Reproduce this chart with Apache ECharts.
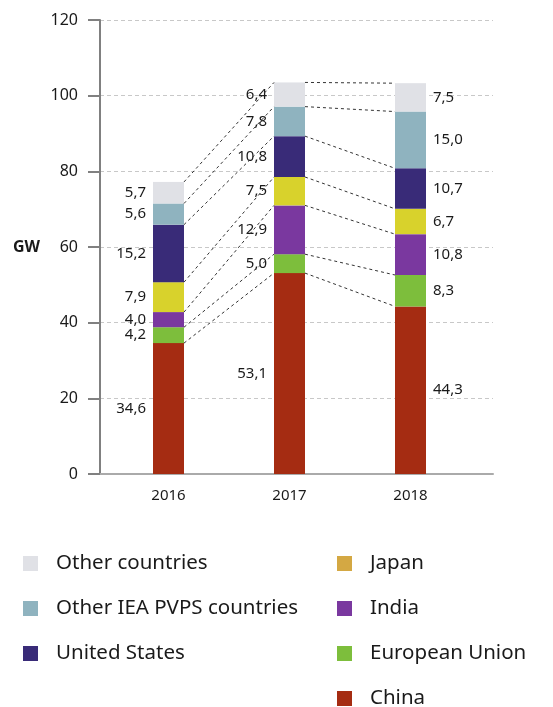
<!DOCTYPE html>
<html>
<head>
<meta charset="utf-8">
<script src="https://cdn.jsdelivr.net/npm/echarts@6/dist/echarts.min.js"></script>
<style>
  html, body { margin: 0; padding: 0; background: #fff; }
  #chart { width: 553px; height: 707px; }
</style>
</head>
<body>
<div id="chart"></div>
<script>
// data (GW)
const years = ['2016', '2017', '2018'];
const seriesNames = ['China', 'European Union', 'India', 'Japan', 'United States', 'Other IEA PVPS countries', 'Other countries'];
const china = [34.6, 53.1, 44.3];
const eu = [4.2, 5.0, 8.3];
const india = [4.0, 12.9, 10.8];
const japan = [7.9, 7.5, 6.7];
const usa = [15.2, 10.8, 10.7];
const otherIea = [5.6, 7.8, 15.0];
const otherCountries = [5.7, 6.4, 7.5];
const yTicks = [0, 20, 40, 60, 80, 100, 120];

const values = [china, eu, india, japan, usa, otherIea, otherCountries];
const colors = ['#a52c12', '#7dbe3c', '#7a389f', '#d8d22c', '#392b78', '#8fb3bf', '#e0e1e6'];
const barW = 31;
const textColor = '#1a1a1a';
const font = 'Noto Sans';

// cumulative tops for the dashed connectors
const tops = values.map((_, k) => years.map((_, i) => {
    let s = 0;
    for (let j = 0; j <= k; j++) s += values[j][i];
    return s;
}));
const links = [];
tops.forEach(row => {
    for (let i = 0; i < years.length - 1; i++) links.push([i, row[i], row[i + 1]]);
});

const fmt = v => v.toFixed(1).replace('.', ',');

const barSeries = seriesNames.map((name, k) => ({
    name: name,
    type: 'bar',
    stack: 'total',
    xAxisIndex: 1,
    yAxisIndex: 1,
    barWidth: barW,
    itemStyle: { color: colors[k] },
    data: values[k].map((v, i) => ({
        value: v,
        label: { position: i === years.length - 1 ? 'right' : 'left' }
    })),
    label: {
        show: true,
        distance: 7,
        color: textColor,
        fontFamily: font,
        fontSize: 15,
        formatter: p => fmt(p.value)
    },
    emphasis: { disabled: true }
}));

const legendText = { color: textColor, fontSize: 20.5, fontFamily: font, lineHeight: 20, padding: [0, 0, 0, 13] };

const dom = document.getElementById('chart');
const myChart = echarts.init(dom);

const option = {
    animation: false,
    textStyle: { fontFamily: font },
    grid: [
        { left: 100, right: 60, top: 20, bottom: 233 },
        { left: 108, right: 82, top: 20, bottom: 233 }
    ],
    xAxis: [
        {
            gridIndex: 0, type: 'value', min: 0, max: 1,
            axisLine: { show: true, lineStyle: { color: '#aaaaaa', width: 2 } },
            axisTick: { show: false }, axisLabel: { show: false }, splitLine: { show: false }
        },
        {
            gridIndex: 1, type: 'category', data: years,
            axisLine: { show: false }, axisTick: { show: false },
            axisLabel: { color: textColor, fontSize: 15, fontFamily: font, margin: 14 }
        }
    ],
    yAxis: [
        {
            gridIndex: 0, type: 'value', min: yTicks[0], max: yTicks[yTicks.length - 1], interval: 20,
            name: 'GW', nameLocation: 'middle', nameRotate: 0, nameGap: 60,
            nameTextStyle: { color: textColor, fontSize: 16, fontWeight: 'bold', fontFamily: font },
            axisLine: { show: true, lineStyle: { color: '#808080', width: 2 } },
            axisTick: { show: true, length: 12, lineStyle: { color: '#808080', width: 2 } },
            axisLabel: { color: textColor, fontSize: 16, fontFamily: font, margin: 22 },
            splitLine: { show: true, lineStyle: { color: '#c8c8c8', type: [4, 3], width: 1 } }
        },
        { gridIndex: 1, type: 'value', min: 0, max: 120, show: false }
    ],
    legend: [
        {
            orient: 'vertical', left: 23, top: 553, height: 200, padding: 0,
            itemWidth: 15, itemHeight: 15, itemGap: 24, icon: 'rect',
            selectedMode: false,
            textStyle: legendText,
            data: ['Other countries', 'Other IEA PVPS countries', 'United States']
        },
        {
            orient: 'vertical', left: 337, top: 553, height: 200, padding: 0,
            itemWidth: 15, itemHeight: 15, itemGap: 24, icon: 'rect',
            selectedMode: false,
            textStyle: legendText,
            data: [{ name: 'Japan', itemStyle: { color: '#d4a843' } }, 'India', 'European Union', 'China']
        }
    ],
    series: barSeries.concat([{
        type: 'custom',
        name: 'links',
        xAxisIndex: 1,
        yAxisIndex: 1,
        silent: true,
        z: 3,
        encode: { x: 0, y: [1, 2] },
        data: links,
        renderItem: (params, api) => {
            const p1 = api.coord([api.value(0), api.value(1)]);
            const p2 = api.coord([api.value(0) + 1, api.value(2)]);
            return {
                type: 'line',
                shape: { x1: p1[0] + barW / 2, y1: p1[1], x2: p2[0] - barW / 2, y2: p2[1] },
                style: { stroke: '#333333', lineWidth: 1, lineDash: [3, 3] }
            };
        }
    }])
};

if (option && typeof option === 'object') {
    myChart.setOption(option);
}
window.addEventListener('resize', myChart.resize);
</script>
</body>
</html>
